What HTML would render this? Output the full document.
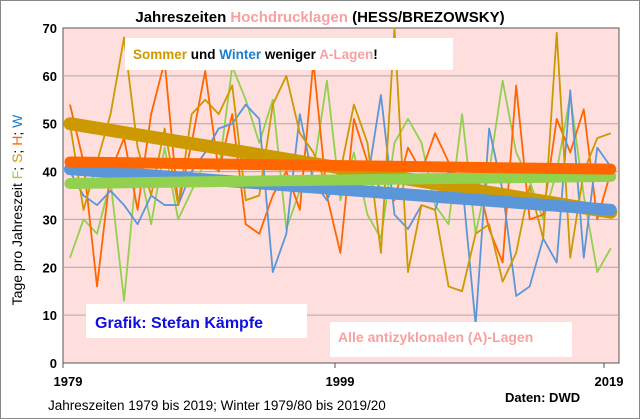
<!DOCTYPE html>
<html><head><meta charset="utf-8"><style>
body{margin:0;background:#fff}
svg{display:block;font-family:"Liberation Sans",sans-serif}
</style></head><body>
<svg id="c" width="640" height="419" viewBox="0 0 640 419">
<rect x="0.5" y="0.5" width="639" height="418" fill="#fff" stroke="#888"/>
<rect x="63" y="28" width="556" height="335" fill="#ffdede" stroke="#555"/>
<g id="grid"></g>
<g id="series"></g>
<text x="320" y="22" text-anchor="middle" font-size="15" font-weight="bold">Jahreszeiten <tspan fill="#f9a0a0">Hochdrucklagen</tspan> (HESS/BREZOWSKY)</text>
<rect x="125" y="38" width="328" height="32" fill="#fff"/>
<text x="133" y="59" font-size="13.5" font-weight="bold"><tspan fill="#cc9900">Sommer</tspan> und <tspan fill="#1a7fd0">Winter</tspan> weniger <tspan fill="#f9a0a0">A-Lagen</tspan>!</text>
<rect x="86" y="304" width="221" height="34" fill="#fff"/>
<text x="95" y="328" font-size="16" font-weight="bold" fill="#1010e0">Grafik: Stefan Kämpfe</text>
<rect x="330" y="322" width="242" height="35" fill="#fff"/>
<text x="338" y="342" font-size="14" font-weight="bold" fill="#f9a0a0">Alle antizyklonalen (A)-Lagen</text>
<text transform="translate(22,210) rotate(-90)" text-anchor="middle" font-size="14">Tage pro Jahreszeit <tspan fill="#92d050">F</tspan>; <tspan fill="#cc9900">S</tspan>; <tspan fill="#ff6600">H</tspan>; <tspan fill="#1a7fd0">W</tspan></text>
<text x="48" y="410" font-size="13.5">Jahreszeiten 1979 bis 2019; Winter 1979/80 bis 2019/20</text>
<text x="505" y="402" font-size="13" font-weight="bold">Daten: DWD</text>
</svg>
<script>
const years=[];for(let y=1979;y<=2019;y++)years.push(y);
const yTicks=[0,10,20,30,40,50,60,70];
const xTickLabels=[1979,1999,2019];
const summer=[50,32,42,52,68,45,35,49,33,52,55,52,58,34,35,54,60,48,44,37,40,54,46,23,75,19,33,32,16,15,27,29,17,23,37,26,69,22,40,47,48];
const winter=[40,35,33,36,33,29,35,33,33,40,44,49,50,54,51,19,27,52,38,34,40,37,38,56,31,28,33,32,40,38,8,49,36,14,16,26,21,57,22,45,41];
const spring=[22,30,27,38,13,43,29,45,30,36,42,40,62,55,46,55,28,36,40,59,34,44,31,26,46,51,46,33,29,52,27,40,59,44,38,30,40,56,35,19,24];
const autumn=[54,42,16,40,47,32,52,63,33,46,61,40,52,29,27,35,40,32,63,35,23,51,42,36,34,45,40,48,42,36,40,28,21,58,30,31,51,44,53,30,40];
const trendSummer=[50,31.5],trendAutumn=[42,40.5],trendSpring=[37.5,39],trendWinter=[40.5,32];
const NS='http://www.w3.org/2000/svg';
const X=i=>70+i*13.52, Y=v=>363-v*(335/70);
const clampY=v=>Math.max(28,Math.min(363,Y(v)));
const grid=document.getElementById('grid'),ser=document.getElementById('series'),svg=document.getElementById('c');
function mk(tag,at,par){const e=document.createElementNS(NS,tag);for(const k in at)e.setAttribute(k,at[k]);par.appendChild(e);return e;}
yTicks.forEach(t=>{
 if(t>0&&t<70){const l=mk('line',{x1:63,x2:619,y1:Y(t),y2:Y(t),stroke:'#aaa','stroke-width':1},grid);
 
 }
 const tx=mk('text',{x:57,y:Y(t)+5,'text-anchor':'end','font-size':13,'font-weight':'bold'},svg);tx.textContent=t;
 
 
});
xTickLabels.forEach(yr=>{
 const tx=[63,335,604][xTickLabels.indexOf(yr)];
 mk('line',{x1:tx,x2:tx,y1:363,y2:368,stroke:'#555'},grid);
 const t=mk('text',{x:tx+5,y:386,'text-anchor':'middle','font-size':13,'font-weight':'bold'},svg);t.textContent=yr;
 
 
});
function line(data,color,name){
 const p=mk('polyline',{points:data.map((v,i)=>X(i)+','+clampY(v)).join(' '),fill:'none',stroke:color,'stroke-width':1.8,'stroke-linejoin':'round'},ser);
 
 
}
line(spring,'#92d050','spring-line');
line(autumn,'#ff6600','autumn-line');
line(winter,'#5b97d8','winter-line');
line(summer,'#cc9900','summer-line');
function trend(tr,color,name,w){
 const l=mk('line',{x1:X(0),y1:Y(tr[0]),x2:X(40),y2:Y(tr[1]),stroke:color,'stroke-width':w,'stroke-linecap':'round'},ser);
 
 
}
trend(trendSummer,'#cc9900','summer-trend',13);
trend(trendWinter,'#5b97d8','winter-trend',12);
trend(trendSpring,'#92d050','spring-trend',11);
trend(trendAutumn,'#ff6600','autumn-trend',11);
</script>
</body></html>
